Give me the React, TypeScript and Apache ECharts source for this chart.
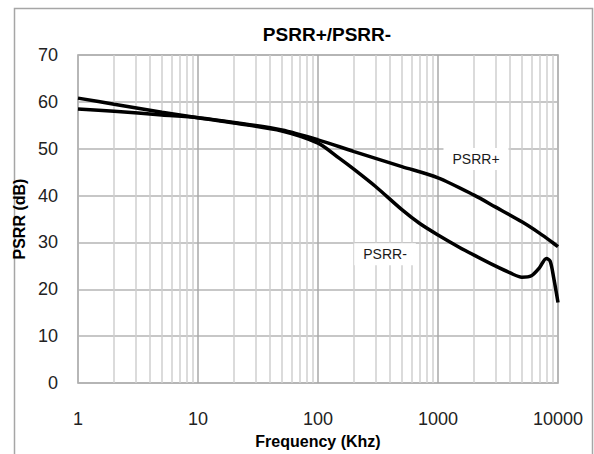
import React, { useEffect, useRef } from "react";
import * as echarts from "echarts";

const title = "PSRR+/PSRR-";
const xAxisName = "Frequency (Khz)";
const yAxisName = "PSRR (dB)";

// PSRR+ (frequency kHz, dB)
const psrrPlusFreq = [1, 2, 5, 10, 20, 50, 100, 200, 500, 1000, 2000, 3000, 5000, 7000, 9000, 10000];
const psrrPlusVal = [58.5, 58.0, 57.2, 56.6, 55.6, 54.0, 51.9, 49.4, 46.2, 43.8, 40.1, 37.6, 34.4, 32.0, 30.0, 29.1];

// PSRR- (frequency kHz, dB)
const psrrMinusFreq = [1, 2, 5, 10, 20, 50, 100, 150, 200, 300, 500, 700, 1000, 1500, 2000, 3000, 4000, 5000, 6000, 7000, 8000, 8600, 9200, 10000];
const psrrMinusVal = [60.8, 59.5, 57.8, 56.6, 55.5, 53.8, 51.2, 48.0, 45.6, 42.0, 37.0, 34.1, 31.6, 29.0, 27.3, 25.0, 23.5, 22.6, 22.9, 24.6, 26.6, 26.0, 22.5, 17.2];

// minor log gridlines
const minorGrid = [2, 3, 4, 5, 6, 7, 8, 9, 20, 30, 40, 50, 60, 70, 80, 90, 200, 300, 400, 500, 600, 700, 800, 900, 2000, 3000, 4000, 5000, 6000, 7000, 8000, 9000];
const majorGrid = [10, 100, 1000];

const labelPlus = { text: "PSRR+", freq: 2074, value: 47.8 };
const labelMinus = { text: "PSRR-", freq: 362, value: 27.5 };

const FONT = "'Liberation Sans', Arial, sans-serif";

export default function App() {
  const ref = useRef<HTMLDivElement>(null);
  useEffect(() => {
    if (!ref.current) return;
    const chart = echarts.init(ref.current, undefined, { renderer: "svg" });
    const pair = (f: number[], v: number[]) => f.map((x, i) => [x, v[i]]);
    const markLabel = (l: { text: string; freq: number; value: number }) => ({
      symbol: "circle",
      symbolSize: 0,
      silent: true,
      data: [{ coord: [l.freq, l.value] }],
      label: {
        show: true,
        position: "inside",
        formatter: l.text,
        color: "#1a1a1a",
        fontSize: 14,
        fontFamily: FONT,
        backgroundColor: "#ffffff",
        padding: [4, 9],
      },
    });
    chart.setOption({
      animation: false,
      backgroundColor: "#ffffff",
      title: {
        text: title,
        left: 322,
        top: 20,
        textAlign: "center",
        textStyle: { fontSize: 19, fontWeight: "bold", color: "#000", fontFamily: FONT },
      },
      graphic: [
        {
          type: "rect",
          shape: { x: 14.5, y: 8.5, width: 578, height: 460 },
          style: { fill: "none", stroke: "#a6a6a6", lineWidth: 1.5 },
          silent: true,
        },
      ],
      grid: {
        left: 78,
        top: 55,
        width: 480,
        height: 334,
        show: true,
        borderColor: "#a0a0a0",
        borderWidth: 1.5,
        backgroundColor: "transparent",
      },
      xAxis: {
        type: "log",
        logBase: 10,
        min: 1,
        max: 10000,
        name: xAxisName,
        nameLocation: "middle",
        nameGap: 40,
        nameTextStyle: { fontSize: 16, fontWeight: "bold", color: "#000", fontFamily: FONT },
        axisLine: { show: false },
        axisTick: { show: false },
        axisLabel: {
          fontSize: 18,
          color: "#222",
          margin: 27,
          fontFamily: FONT,
          formatter: (v: number) => String(Math.round(v)),
        },
        splitLine: { show: false },
      },
      yAxis: {
        type: "value",
        min: 0,
        max: 70,
        interval: 10,
        name: yAxisName,
        nameLocation: "middle",
        nameGap: 40,
        nameTextStyle: { fontSize: 16, fontWeight: "bold", color: "#000", fontFamily: FONT },
        axisLine: { show: false },
        axisTick: { show: false },
        axisLabel: { fontSize: 18, color: "#222", margin: 20, fontFamily: FONT },
        splitLine: { show: true, lineStyle: { color: "#b4b4b4", width: 1.5 } },
      },
      series: [
        {
          type: "line",
          name: "minor",
          data: [],
          silent: true,
          markLine: {
            silent: true,
            symbol: "none",
            label: { show: false },
            lineStyle: { color: "#cfcfcf", width: 1.5, type: "solid" },
            data: minorGrid.map((x) => ({ xAxis: x })),
          },
        },
        {
          type: "line",
          name: "major",
          data: [],
          silent: true,
          markLine: {
            silent: true,
            symbol: "none",
            label: { show: false },
            lineStyle: { color: "#a8a8a8", width: 1.5, type: "solid" },
            data: majorGrid.map((x) => ({ xAxis: x })),
          },
        },
        {
          type: "line",
          name: "PSRR+",
          data: pair(psrrPlusFreq, psrrPlusVal),
          showSymbol: false,
          smooth: 0.3,
          lineStyle: { color: "#000", width: 3.5 },
          markPoint: markLabel(labelPlus),
          z: 5,
        },
        {
          type: "line",
          name: "PSRR-",
          data: pair(psrrMinusFreq, psrrMinusVal),
          showSymbol: false,
          smooth: 0.3,
          lineStyle: { color: "#000", width: 3.5 },
          markPoint: markLabel(labelMinus),
          z: 5,
        },
      ],
    });
    return () => chart.dispose();
  }, []);
  return (
    <div
      ref={ref}
      style={{ position: "absolute", left: 0, top: 0, width: 594, height: 454 }}
    />
  );
}
